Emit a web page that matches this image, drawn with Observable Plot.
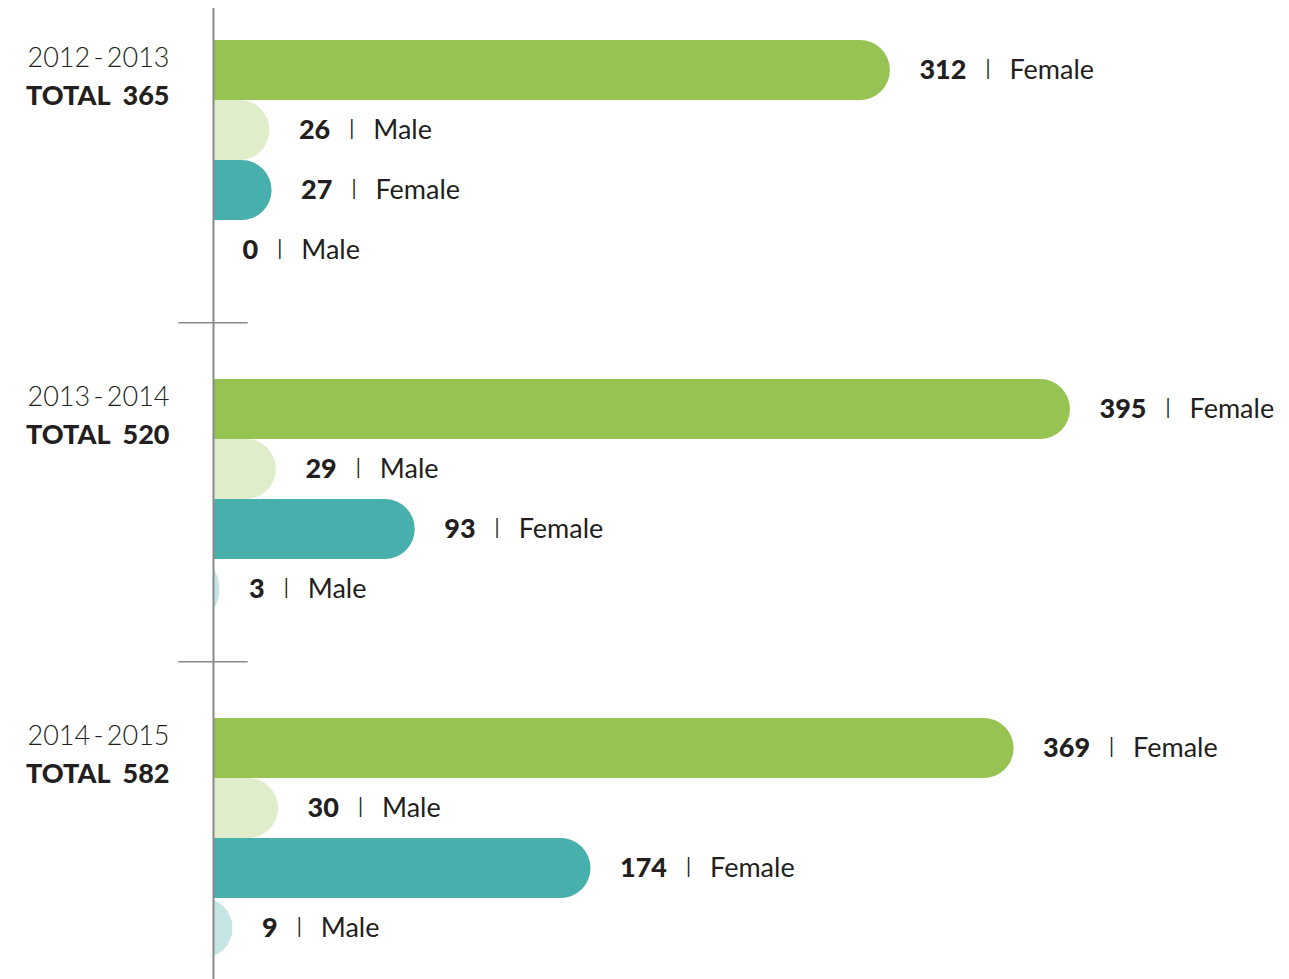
<!DOCTYPE html>
<html>
<head>
<meta charset="utf-8">
<script src="https://cdn.jsdelivr.net/npm/d3@7"></script>
<script src="https://cdn.jsdelivr.net/npm/@observablehq/plot@0.6"></script>
<style>
  body { margin: 0; background: #ffffff; }
  #chart svg { display: block; }
</style>
</head>
<body>
<div id="chart"></div>
<script>
// ---- Data ----
const years = ["2012\u2009-\u20092013", "2013\u2009-\u20092014", "2014\u2009-\u20092015"];
const totals = [365, 520, 582];
const rowKeys = ["Group A Female", "Group A Male", "Group B Female", "Group B Male"];
const rowSex = ["Female", "Male", "Female", "Male"];
const values2012 = [312, 26, 27, 0];
const values2013 = [395, 29, 93, 3];
const values2014 = [369, 30, 174, 9];
const colors = ["#97c352", "#e0edcb", "#47b0ac", "#c5e6e4"];

// ---- Layout helpers (row units) ----
const groupStep = 5.65;
const allValues = [values2012, values2013, values2014];

const data = [];
years.forEach((yr, g) => {
  allValues[g].forEach((v, r) => {
    data.push({year: yr, g, r, key: rowKeys[r], sex: rowSex[r], value: v,
               y1: g * groupStep + r, y2: g * groupStep + r + 1});
  });
});
const groups = years.map((yr, g) => ({year: yr, total: totals[g], g}));
const seps = [0, 1].map(g => g * groupStep + 4 + (groupStep - 4) / 2 - 0.12);

const ink = "#231f20";
const axisGray = "#8a8a8a";

const chart = Plot.plot({
  width: 1289,
  height: 979,
  marginLeft: 213,
  marginRight: 219,
  marginTop: 8,
  marginBottom: 0,
  style: {fontFamily: "Lato, 'Open Sans', sans-serif", background: "#ffffff"},
  x: {domain: [0, 395], axis: null},
  y: {domain: [-0.533, 2 * groupStep + 4 + 0.35], reverse: true, axis: null},
  color: {domain: rowKeys, range: colors},
  marks: [
    Plot.rectX(data, {
      x1: 0, x2: "value", y1: "y1", y2: "y2", fill: "key",
      rx: 30, insetLeft: -40, clip: true
    }),
    Plot.ruleX([0], {stroke: axisGray, strokeWidth: 2}),
    Plot.ruleY(seps, {x1: -16, x2: 16, stroke: axisGray, strokeWidth: 1.5}),
    Plot.text(data, {
      x: "value", y: d => (d.y1 + d.y2) / 2,
      text: d => `${d.value}|${d.sex}`,
      dx: 29, textAnchor: "start", fontSize: 27, fill: ink
    }),
    Plot.text(groups, {
      x: 0, y: d => d.g * groupStep + 0.3, text: "year",
      dx: -44, textAnchor: "end", fontSize: 27, fontWeight: 300, fill: ink
    }),
    Plot.text(groups, {
      x: 0, y: d => d.g * groupStep + 0.93, text: d => `TOTAL  ${d.total}`,
      dx: -44, textAnchor: "end", fontSize: 27, fontWeight: 900, fill: ink
    })
  ]
});

// Split "value|sex" labels into bold number, separator and sex.
d3.select(chart).selectAll("text").each(function () {
  const s = this.textContent;
  if (!s.includes("|")) return;
  const [num, sex] = s.split("|");
  const t = d3.select(this);
  t.text(null);
  t.append("tspan").attr("font-weight", 900).text(num);
  t.append("tspan").attr("dx", 18).attr("font-weight", 300).text("I");
  t.append("tspan").attr("dx", 18).text(sex);
});

document.getElementById("chart").appendChild(chart);
</script>
</body>
</html>
